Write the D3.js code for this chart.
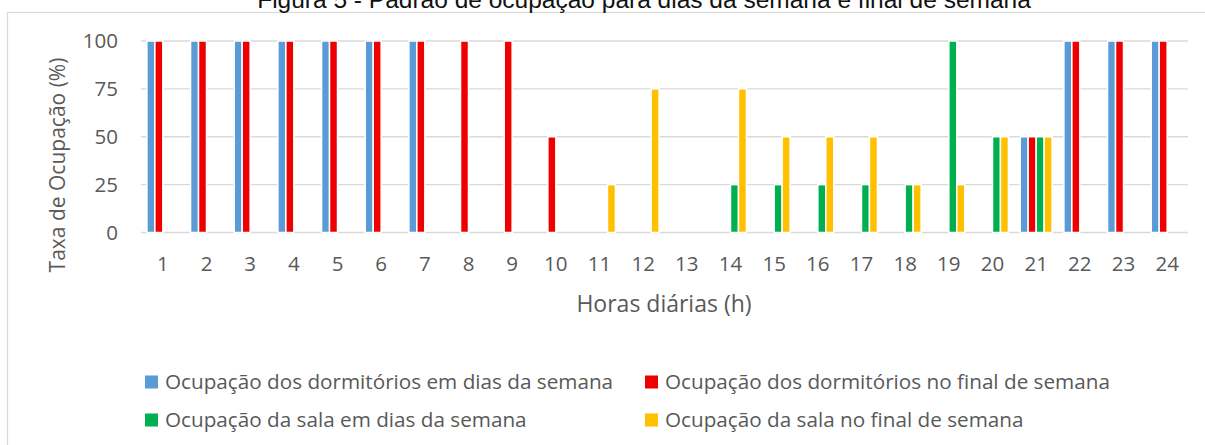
<!DOCTYPE html>
<html>
<head>
<meta charset="utf-8">
<script src="https://cdn.jsdelivr.net/npm/d3@7"></script>
<style>
  html, body { margin: 0; padding: 0; background: #ffffff; }
  svg { display: block; }
</style>
</head>
<body>
<svg id="chart"></svg>
<script>
// Chart data
const hours = ["1","2","3","4","5","6","7","8","9","10","11","12","13","14","15","16","17","18","19","20","21","22","23","24"];
const seriesNames = [
  "Ocupação dos dormitórios em dias da semana",
  "Ocupação dos dormitórios no final de semana",
  "Ocupação da sala em dias da semana",
  "Ocupação da sala no final de semana"
];
const seriesColors = ["#5B9BD5", "#EE0000", "#00B050", "#FFC000"];
const dormWeekday = [100,100,100,100,100,100,100,0,0,0,0,0,0,0,0,0,0,0,0,0,50,100,100,100];
const dormWeekend = [100,100,100,100,100,100,100,100,100,50,0,0,0,0,0,0,0,0,0,0,50,100,100,100];
const roomWeekday = [0,0,0,0,0,0,0,0,0,0,0,0,0,25,25,25,25,25,100,50,50,0,0,0];
const roomWeekend = [0,0,0,0,0,0,0,0,0,0,25,75,0,75,50,50,50,25,25,50,50,0,0,0];
const yTicks = [0, 25, 50, 75, 100];

const chartTitle = "Figura 5 - Padrão de ocupação para dias da semana e final de semana";
const yTitle = "Taxa de Ocupação (%)";
const xTitle = "Horas diárias (h)";

const width = 1205;
const height = 445;
const textColor = "#595959";
const gridColor = "#D9D9D9";
const chartFont = "'Open Sans', sans-serif";

function drawChart() {
  const svg = d3.select("#chart").attr("width", width).attr("height", height);

  // Chart frame, title sits above it like a caption
  svg.append("rect")
    .attr("x", 7.5)
    .attr("y", 12.5)
    .attr("width", 1205)
    .attr("height", 440)
    .attr("fill", "#ffffff")
    .attr("stroke", gridColor)
    .attr("stroke-width", 1.2);

  svg.append("text")
    .attr("x", 644)
    .attr("y", 8)
    .attr("text-anchor", "middle")
    .attr("font-family", "'Liberation Sans', Arial, sans-serif")
    .attr("font-size", "24.5px")
    .attr("fill", "#111111")
    .text(chartTitle);

  // Scales
  const x0 = d3.scaleBand()
    .domain(hours)
    .range([141, 1189])
    .paddingInner(0.27)
    .paddingOuter(0.135);

  const x1 = d3.scaleBand()
    .domain(d3.range(seriesNames.length))
    .range([0, x0.bandwidth()]);

  const y = d3.scaleLinear()
    .domain([0, 100])
    .range([232.5, 41]);

  // Gridlines
  svg.append("g")
    .selectAll("line")
    .data(yTicks)
    .enter()
    .append("line")
    .attr("x1", 141)
    .attr("x2", 1188)
    .attr("y1", d => y(d))
    .attr("y2", d => y(d))
    .attr("stroke", gridColor)
    .attr("stroke-width", 1.4);

  // Y axis labels
  const yAxis = d3.axisLeft(y).tickValues(yTicks).tickSize(0).tickPadding(0);
  const yAxisG = svg.append("g")
    .attr("transform", "translate(118,0)")
    .call(yAxis);
  yAxisG.select(".domain").remove();
  yAxisG.selectAll("text")
    .attr("font-family", chartFont)
    .attr("font-size", "20.5px")
    .attr("fill", textColor);

  // X axis labels
  const xAxis = d3.axisBottom(x0).tickSize(0).tickPadding(0);
  const xAxisG = svg.append("g")
    .attr("transform", "translate(0,256)")
    .call(xAxis);
  xAxisG.select(".domain").remove();
  xAxisG.selectAll("text")
    .attr("font-family", chartFont)
    .attr("font-size", "20.5px")
    .attr("fill", textColor);

  // Bars, one group per hour
  const seriesValues = [dormWeekday, dormWeekend, roomWeekday, roomWeekend];
  const groups = svg.append("g")
    .selectAll("g")
    .data(hours)
    .enter()
    .append("g")
    .attr("transform", d => `translate(${x0(d)},0)`);

  groups.selectAll("rect")
    .data((d, i) => seriesValues.map((vals, s) => ({ s: s, v: vals[i] })))
    .enter()
    .filter(d => d.v > 0)
    .append("rect")
    .attr("x", d => x1(d.s))
    .attr("y", d => y(d.v))
    .attr("width", x1.bandwidth())
    .attr("height", d => y(0) - y(d.v))
    .attr("fill", d => seriesColors[d.s])
    .attr("stroke", "#ffffff")
    .attr("stroke-width", 1.5);

  // Axis titles
  svg.append("text")
    .attr("transform", "translate(65,165) rotate(-90)")
    .attr("text-anchor", "middle")
    .attr("font-family", chartFont)
    .attr("font-size", "21px")
    .attr("fill", textColor)
    .text(yTitle);

  svg.append("text")
    .attr("x", 664)
    .attr("y", 312)
    .attr("text-anchor", "middle")
    .attr("font-family", chartFont)
    .attr("font-size", "23px")
    .attr("fill", textColor)
    .text(xTitle);

  drawLegend(svg);
}

// Legend in two rows of two entries
function drawLegend(svg) {
  const legendX = [145, 645];
  const legendY = [382, 420];

  const items = svg.append("g")
    .selectAll("g")
    .data(seriesNames)
    .enter()
    .append("g")
    .attr("transform", (d, i) => `translate(${legendX[i % 2]},${legendY[Math.floor(i / 2)]})`);

  items.append("rect")
    .attr("x", 0)
    .attr("y", -6.5)
    .attr("width", 13)
    .attr("height", 13)
    .attr("fill", (d, i) => seriesColors[i]);

  items.append("text")
    .attr("x", 20)
    .attr("dy", "0.35em")
    .attr("font-family", chartFont)
    .attr("font-size", "20.7px")
    .attr("fill", textColor)
    .text(d => d);
}

drawChart();
</script>
</body>
</html>
